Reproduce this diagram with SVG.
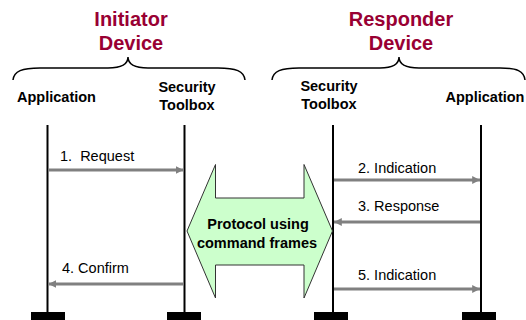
<svg xmlns="http://www.w3.org/2000/svg" width="526" height="320" viewBox="0 0 526 320">
  <style>
    .title { font-family: "Liberation Sans", Arial, sans-serif; font-weight: bold; font-size: 20px; fill: #990033; text-anchor: middle; }
    .role { font-family: "Liberation Sans", Arial, sans-serif; font-weight: bold; font-size: 14.5px; fill: #000; text-anchor: middle; }
    .msg { font-family: "Liberation Sans", Arial, sans-serif; font-size: 14.5px; fill: #000; white-space: pre; }
    .proto { font-family: "Liberation Sans", Arial, sans-serif; font-weight: bold; font-size: 14.5px; fill: #000; text-anchor: middle; }
    .brace { fill: none; stroke: #000; stroke-width: 1.5; }
    .life { stroke: #000; stroke-width: 2; }
    .foot { fill: #000; }
    .call { stroke: #808080; stroke-width: 3; fill: none; marker-end: url(#head); }
  </style>
  <defs>
    <marker id="head" viewBox="0 0 8 8" refX="8" refY="4" markerWidth="2.6" markerHeight="2.6" markerUnits="strokeWidth" orient="auto">
      <path d="M0,0 L8,4 L0,8 Z" fill="#808080"/>
    </marker>
  </defs>

  <!-- device headings with braces -->
  <g id="initiator-device">
    <text class="title" x="131" y="26">Initiator</text>
    <text class="title" x="131" y="50">Device</text>
    <path class="brace" d="M13,80 C14,71 22,68 40,68 L108,68 C121,68 128,64 128,57 C128,64 135,68 148,68 L218,68 C236,68 244,71 245,80"/>
  </g>
  <g id="responder-device">
    <text class="title" x="401" y="26">Responder</text>
    <text class="title" x="401" y="50">Device</text>
    <path class="brace" d="M272,80 C273,71 281,68 299,68 L380,68 C393,68 399,64 399,57 C399,64 406,68 419,68 L500,68 C517,68 524,71 525,80"/>
  </g>

  <!-- lifelines -->
  <g id="init-app">
    <text class="role" x="56.5" y="102">Application</text>
    <line class="life" x1="47.5" y1="125" x2="47.5" y2="313"/>
    <rect class="foot" x="31" y="312" width="34" height="8"/>
  </g>
  <g id="init-toolbox">
    <text class="role" x="187" y="92">Security</text>
    <text class="role" x="187" y="110">Toolbox</text>
    <line class="life" x1="184.5" y1="125" x2="184.5" y2="313"/>
    <rect class="foot" x="167" y="312" width="34" height="8"/>
  </g>
  <g id="resp-toolbox">
    <text class="role" x="329" y="91">Security</text>
    <text class="role" x="329" y="109">Toolbox</text>
    <line class="life" x1="333" y1="125" x2="333" y2="313"/>
    <rect class="foot" x="314" y="312" width="34" height="8"/>
  </g>
  <g id="resp-app">
    <text class="role" x="485" y="102">Application</text>
    <line class="life" x1="481" y1="125" x2="481" y2="313"/>
    <rect class="foot" x="462" y="312" width="34" height="8"/>
  </g>

  <!-- over-the-air exchange -->
  <g id="protocol">
    <path d="M187,231 L215.5,164.5 L215.5,198 L304,198 L304,164.5 L332.5,231 L304,298 L304,265 L215.5,265 L215.5,298 Z" fill="#ccffcc" stroke="#333" stroke-width="1"/>
    <text class="proto" x="258" y="229">Protocol using</text>
    <text class="proto" x="257" y="248">command frames</text>
  </g>

  <!-- primitives -->
  <g id="connectors">
    <line class="call" x1="48.5" y1="170" x2="183.5" y2="170"/>
    <text class="msg" x="60" y="161" xml:space="preserve">1.  Request</text>
    <line class="call" x1="334" y1="180" x2="480" y2="180"/>
    <text class="msg" x="358" y="173">2. Indication</text>
    <line class="call" x1="480" y1="222" x2="334" y2="222"/>
    <text class="msg" x="358" y="211">3. Response</text>
    <line class="call" x1="183.5" y1="284" x2="48.5" y2="284"/>
    <text class="msg" x="62" y="273">4. Confirm</text>
    <line class="call" x1="334" y1="289" x2="480" y2="289"/>
    <text class="msg" x="358" y="280">5. Indication</text>
  </g>
</svg>
